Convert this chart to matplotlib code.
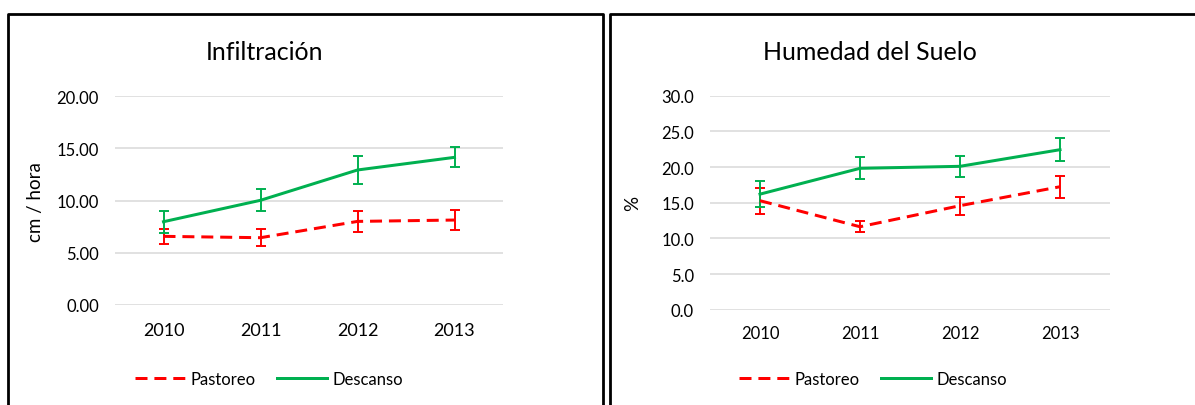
import numpy as np
import matplotlib
matplotlib.use("Agg")
import matplotlib.pyplot as plt
from matplotlib.lines import Line2D

plt.rcParams['font.family'] = ['Lato', 'DejaVu Sans']

years = ['2010', '2011', '2012', '2013']

# Infiltración (cm / hora)
inf_pastoreo = [6.57, 6.44, 8.00, 8.13]
inf_pastoreo_err = [0.75, 0.80, 1.00, 1.00]
inf_descanso = [7.97, 10.02, 12.92, 14.13]
inf_descanso_err = [1.05, 1.05, 1.30, 0.97]

# Humedad del suelo (%)
hum_pastoreo = [15.28, 11.63, 14.58, 17.24]
hum_pastoreo_err = [1.80, 0.75, 1.25, 1.55]
hum_descanso = [16.20, 19.82, 20.10, 22.43]
hum_descanso_err = [1.80, 1.55, 1.50, 1.60]

RED = '#FF0000'
GREEN = '#00B050'
W, H = 1195, 406
LW = 3 * 0.72
DASH = (4, 2.3)


def fx(px):
    return px / W


def fy(py):
    return 1 - py / H


def panel(ax, pastoreo, p_err, descanso, d_err, ymax, fmt, xfs, xpad):
    x = np.arange(len(years)) + 0.5
    ax.errorbar(x, pastoreo, yerr=p_err, color=RED, lw=LW, dashes=DASH,
                ecolor=RED, elinewidth=1.4, capsize=3.5, capthick=1.4, zorder=3)
    ax.errorbar(x, descanso, yerr=d_err, color=GREEN, lw=LW,
                ecolor=GREEN, elinewidth=1.4, capsize=3.5, capthick=1.4, zorder=3)
    ax.set_xlim(0, len(years))
    ax.set_ylim(0, ymax)
    ax.set_xticks(x)
    ax.set_xticklabels(years)
    ticks = np.arange(0, ymax + 0.01, 5)
    ax.set_yticks(ticks)
    ax.set_yticklabels([fmt % t for t in ticks])
    ax.grid(axis='y', color='#d9d9d9', lw=1.1)
    ax.set_axisbelow(True)
    for s in ax.spines.values():
        s.set_visible(False)
    ax.tick_params(axis='both', length=0, colors='#000000')
    ax.tick_params(axis='y', labelsize=12, pad=11.5)
    ax.tick_params(axis='x', labelsize=xfs, pad=xpad)


fig = plt.figure(figsize=(W / 100, H / 100), dpi=100)

ax1 = fig.add_axes([fx(115), fy(306), fx(388), 209 / H])
panel(ax1, inf_pastoreo, inf_pastoreo_err, inf_descanso, inf_descanso_err, 20, '%.2f', 13, 12)

ax2 = fig.add_axes([fx(710), fy(310.7), fx(400), 214 / H])
panel(ax2, hum_pastoreo, hum_pastoreo_err, hum_descanso, hum_descanso_err, 30, '%.1f', 12, 11)

fig.text(fx(265), fy(52), 'Infiltración', ha='center', va='center', fontsize=18)
fig.text(fx(870), fy(52), 'Humedad del Suelo', ha='center', va='center', fontsize=18)
fig.text(fx(35), fy(202), 'cm / hora', ha='center', va='center', rotation=90, fontsize=13.5)
fig.text(fx(633), fy(203), '%', ha='center', va='center', rotation=90, fontsize=13.5)

handles = [Line2D([], [], color=RED, lw=LW, dashes=DASH),
           Line2D([], [], color=GREEN, lw=LW)]
labels = ['Pastoreo', 'Descanso']
for ax, cx in ((ax1, 269), (ax2, 873)):
    ax.legend(handles, labels, loc='center', bbox_to_anchor=(fx(cx), fy(380)),
              bbox_transform=fig.transFigure, ncol=2, frameon=False, fontsize=12,
              handlelength=3.0, columnspacing=1.3, handletextpad=0.3)

# panel frames
lw = 2.0
fig.add_artist(Line2D([fx(8), fx(8), fx(603), fx(603)], [0, fy(15), fy(15), 0],
                      color='black', lw=lw, transform=fig.transFigure))
fig.add_artist(Line2D([fx(610), fx(610), 1.01], [0, fy(15), fy(15)],
                      color='black', lw=lw, transform=fig.transFigure))

fig.savefig('out.png', dpi=100)
